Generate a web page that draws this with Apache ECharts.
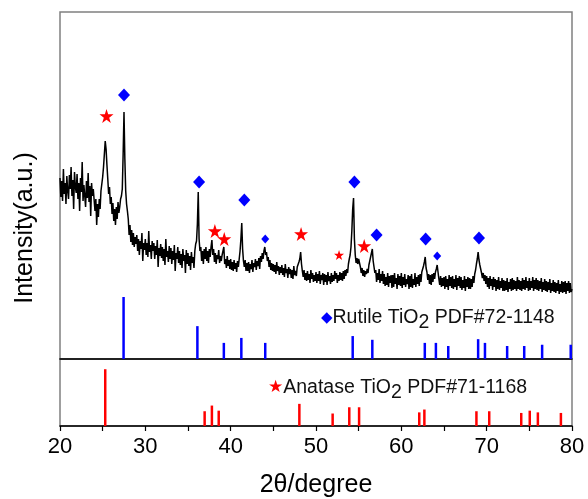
<!DOCTYPE html>
<html><head><meta charset="utf-8">
<script src="https://cdn.jsdelivr.net/npm/echarts@6/dist/echarts.min.js"></script>
<style>html,body{margin:0;padding:0;background:#fff}#c{width:588px;height:499px}</style>
</head><body><div id="c"></div>
<script>
// XRD scan: start angle, step and measured intensities (arb. units)
const scanStart = 20.0;
const scanStep = 0.1;
const intensity = [
181,162,178,158,190,165,176,155,183,168,
160,184,170,192,163,179,150,187,172,166,
185,160,176,148,181,167,197,158,174,163,
152,178,161,186,157,173,143,176,163,170,
168,148,160,134,155,142,160,150,168,175,
182,192,205,218,210,194,180,165,172,155,
162,145,156,138,150,134,152,140,157,146,
152,160,163,170,205,247,200,168,155,148,
140,124,134,117,129,114,126,112,122,115,
124,108,120,104,118,110,126,98,116,109,
120,104,116,102,128,107,114,100,118,108,
116,100,113,104,119,92,111,103,115,101,
112,98,110,94,120,102,108,97,113,100,
111,95,108,99,114,88,106,100,112,96,
108,94,105,91,110,98,104,86,109,95,
106,93,103,89,107,96,102,91,108,115,
118,135,167,120,108,112,98,108,95,110,
100,112,98,108,96,110,102,112,119,104,
110,97,106,95,104,100,109,96,103,98,
104,108,112,95,100,91,103,93,99,90,
100,89,97,88,99,90,96,87,98,92,
100,108,120,136,110,98,92,99,88,96,
88,97,86,95,90,99,87,96,92,100,
89,98,93,101,90,103,97,106,100,108,
112,104,107,98,102,92,99,89,96,88,
95,87,94,85,97,88,93,84,92,86,
94,84,91,82,95,86,90,81,92,85,
90,81,89,80,93,84,88,83,92,94,
97,100,107,95,88,82,89,79,86,78,
88,79,85,76,89,80,86,77,84,78,
87,76,85,78,88,75,84,79,86,74,
85,77,84,74,87,78,83,75,86,77,
84,78,88,80,86,76,84,78,87,79,
86,78,88,80,89,83,90,86,95,100,
104,112,128,150,161,120,104,96,101,95,
100,96,92,86,91,83,89,82,88,85,
90,86,94,98,102,106,110,98,92,86,
89,77,86,79,90,76,85,78,88,75,
85,73,82,74,86,72,83,76,84,71,
84,72,86,75,81,70,85,74,83,73,
86,71,82,74,85,72,80,75,84,70,
83,72,85,71,80,74,86,72,82,75,
84,73,85,77,87,88,93,97,102,91,
87,79,85,75,84,74,85,77,86,80,
87,90,94,87,80,74,83,72,81,73,
82,70,83,72,80,69,84,73,82,71,
83,70,80,72,84,69,81,73,83,71,
82,69,79,71,83,68,80,72,82,70,
81,70,80,72,83,76,85,89,95,100,
107,99,94,90,86,81,86,78,84,75,
83,72,81,70,83,73,80,69,82,72,
80,68,79,70,82,69,78,71,81,68,
79,68,78,69,81,67,77,70,80,68,
81,69,79,70,78,68,82,70,79,69,
78,68,81,70,79,69,82,71,78,68,
81,69,78,71,82,68,79,70,81,69,
79,68,78,70,81,67,77,69,80,68,
78,67,77,69,80,66,76,68,79,67,
77,66,76,68,79,65,75,67,78,66,
77,67,78,65,76,68,78,66,76,67,
70
];

// Reference patterns (2θ, relative intensity %)
const rutilePos = [27.45, 36.1, 39.2, 41.25, 44.05, 54.3, 56.6, 62.75, 64.05, 65.5, 69.0, 69.8, 72.4, 74.4, 76.5, 79.85];
const rutileRel = [100, 53, 26, 34, 26, 37, 31, 26, 26, 21, 32, 26, 21, 21, 23, 23];
const anatasePos = [25.3, 36.95, 37.8, 38.6, 48.05, 51.95, 53.9, 55.05, 62.1, 62.7, 68.8, 70.3, 74.05, 75.05, 76.0, 78.7];
const anataseRel = [100, 26, 36, 27, 39, 22, 33, 33, 24, 29, 26, 26, 23, 27, 24, 23];

// Peak markers on the scan
const rutileMarkX = [27.5, 36.3, 41.6, 54.5, 57.1, 62.85, 69.1];
const rutileMarkY = [264, 177, 159, 177, 124, 120, 121];
const rutileMinorX = [44.05, 64.2];
const rutileMinorY = [120, 103];
const anataseMarkX = [25.45, 38.15, 39.25, 48.25, 55.65];
const anataseMarkY = [243, 128, 120, 125, 113];
const anataseMinorX = [52.7];
const anataseMinorY = [104];

// Axis
const xMin = 20, xMax = 80, xStep = 10;
const labels = {
  yTitle: 'Intensity(a.u.)',
  xTitle: '2θ/degree'
};

const FONT = '"Liberation Sans", Arial, Helvetica, sans-serif';
const BLUE = '#0000ff', RED = '#ff0000';
const STAR = 'path://M50,0 L61.2,34.5 L97.6,34.5 L68.2,55.9 L79.4,90.5 L50,69.1 L20.6,90.5 L31.8,55.9 L2.4,34.5 L38.8,34.5 Z';

const scan = intensity.map((v, i) => [+(scanStart + i * scanStep).toFixed(2), v]);
const zip = (a, b) => a.map((v, i) => [v, b[i]]);

function stickRenderer(color) {
  return function (params, api) {
    const p0 = api.coord([api.value(0), 0]);
    const p1 = api.coord([api.value(0), api.value(1)]);
    return { type: 'line', shape: { x1: p0[0], y1: p0[1], x2: p1[0], y2: p1[1] },
      style: { stroke: color, lineWidth: 2.5 } };
  };
}

const chart = echarts.init(document.getElementById('c'), null, { renderer: 'canvas' });
const hiddenX = (gi) => ({ type: 'value', gridIndex: gi, min: xMin, max: xMax, interval: xStep,
  axisLabel: { show: false }, axisTick: { show: false }, splitLine: { show: false }, axisLine: { show: false } });

chart.setOption({
  animation: false,
  backgroundColor: '#fff',
  textStyle: { fontFamily: FONT },
  grid: [
    { left: 60, top: 12, width: 512, height: 347, show: true, borderColor: '#808080', borderWidth: 1.5, backgroundColor: 'transparent' },
    { left: 60, top: 297, width: 512, height: 62 },
    { left: 60, top: 359, width: 512, height: 78, show: true, borderColor: '#808080', borderWidth: 1.5, backgroundColor: 'transparent' }
  ],
  xAxis: [
    Object.assign(hiddenX(0), { axisLine: { show: true, onZero: false, lineStyle: { color: '#000', width: 1.5 } } }),
    hiddenX(1),
    { type: 'value', gridIndex: 2, min: xMin, max: xMax, interval: xStep,
      axisLine: { show: true, onZero: false, lineStyle: { color: '#000', width: 1.5 } },
      axisTick: { show: true, inside: false, length: 5, lineStyle: { color: '#000', width: 1.2 } },
      minorTick: { show: true, splitNumber: 2, length: 5, lineStyle: { color: '#000', width: 1.2 } },
      splitLine: { show: false },
      axisLabel: { color: '#000', fontSize: 22, fontFamily: FONT, margin: 10 },
      name: labels.xTitle, nameLocation: 'middle', nameGap: 47,
      nameTextStyle: { color: '#000', fontSize: 25, fontFamily: FONT } }
  ],
  yAxis: [
    { type: 'value', gridIndex: 0, min: 0, max: 347, show: false },
    { type: 'value', gridIndex: 1, min: 0, max: 100, show: false },
    { type: 'value', gridIndex: 2, min: 0, max: 118, show: false }
  ],
  series: [
    { type: 'line', xAxisIndex: 0, yAxisIndex: 0, data: scan, showSymbol: false, symbol: 'none',
      lineStyle: { color: '#000', width: 1.5 }, z: 2 },
    { type: 'custom', xAxisIndex: 1, yAxisIndex: 1, data: zip(rutilePos, rutileRel), renderItem: stickRenderer(BLUE), z: 3 },
    { type: 'custom', xAxisIndex: 2, yAxisIndex: 2, data: zip(anatasePos, anataseRel), renderItem: stickRenderer(RED), z: 3 },
    { type: 'scatter', xAxisIndex: 0, yAxisIndex: 0, data: zip(rutileMarkX, rutileMarkY), symbol: 'diamond', symbolSize: [12, 13], itemStyle: { color: BLUE, opacity: 1 }, z: 5 },
    { type: 'scatter', xAxisIndex: 0, yAxisIndex: 0, data: zip(rutileMinorX, rutileMinorY), symbol: 'diamond', symbolSize: [8, 9], itemStyle: { color: BLUE, opacity: 1 }, z: 5 },
    { type: 'scatter', xAxisIndex: 0, yAxisIndex: 0, data: zip(anataseMarkX, anataseMarkY), symbol: STAR, symbolSize: 14, itemStyle: { color: RED, opacity: 1 }, z: 5 },
    { type: 'scatter', xAxisIndex: 0, yAxisIndex: 0, data: zip(anataseMinorX, anataseMinorY), symbol: STAR, symbolSize: 10, itemStyle: { color: RED, opacity: 1 }, z: 5 }
  ],
  graphic: [
    { type: 'text', x: 25, y: 228, rotation: Math.PI / 2, z: 10,
      style: { text: labels.yTitle, fill: '#000', font: '25px ' + FONT, textAlign: 'center', textVerticalAlign: 'middle' } },
    { type: 'text', x: 321, y: 318, z: 10,
      style: { text: '{d|◆}{t|Rutile TiO}{s|2}{t| PDF#72-1148}', textVerticalAlign: 'middle',
        rich: {
          d: { fill: BLUE, fontSize: 15, lineHeight: 30, fontFamily: 'DejaVu Sans' },
          t: { fill: '#111', fontSize: 19.5, lineHeight: 20, fontFamily: FONT },
          s: { fill: '#111', fontSize: 19.5, lineHeight: 20, verticalAlign: 'bottom', fontFamily: FONT }
        } } },
    { type: 'text', x: 268, y: 388, z: 10,
      style: { text: '{d|★}{t|Anatase TiO}{s|2}{t| PDF#71-1168}', textVerticalAlign: 'middle',
        rich: {
          d: { fill: RED, fontSize: 17, lineHeight: 30, fontFamily: 'DejaVu Sans' },
          t: { fill: '#111', fontSize: 19.5, lineHeight: 20, fontFamily: FONT },
          s: { fill: '#111', fontSize: 19.5, lineHeight: 20, verticalAlign: 'bottom', fontFamily: FONT }
        } } }
  ]
});
</script></body></html>
